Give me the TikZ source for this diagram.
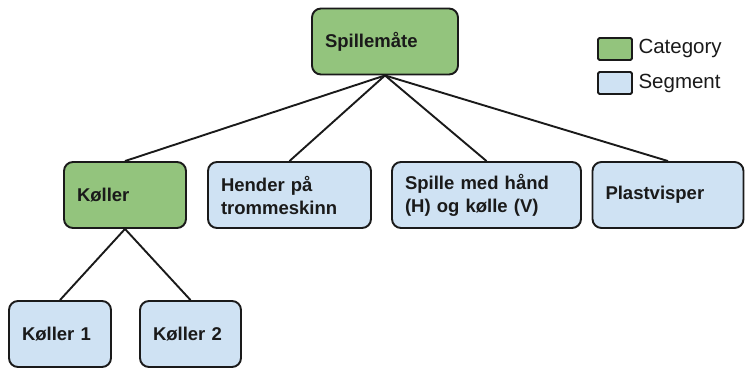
\documentclass[tikz,border=0pt]{standalone}
\usepackage{fontspec}
\setmainfont{Liberation Sans}
\usetikzlibrary{positioning}
\definecolor{catgreen}{HTML}{93C47D}
\definecolor{segblue}{HTML}{CFE2F3}
\definecolor{edge}{HTML}{1A1A1A}

\begin{document}
\begin{tikzpicture}[
  x=1pt, y=-1pt,
  every node/.style={font=\fontsize{18.5}{23}\selectfont\bfseries, text=edge},
  tbox/.style={draw=edge, line width=1.9pt, rounded corners=9pt,
              minimum height=66pt, inner xsep=13pt, align=left},
  catbox/.style={tbox, fill=catgreen},
  segbox/.style={tbox, fill=segblue},
  key/.style={draw=edge, line width=1.9pt, rounded corners=1.5pt,
              minimum width=34pt, minimum height=22pt},
  keytext/.style={font=\fontsize{20.5}{24}\selectfont, anchor=west},
  link/.style={line width=1.9pt, edge},
]
  \useasboundingbox (0,0) rectangle (748,370);

  % Top level
  \node[catbox, text width=120pt] (spill) at (385,41.5) {Spillemåte};

  % Second level
  \node[catbox, text width=96pt] (koll) at (125,195) {Køller};
  \node[segbox, text width=137pt] (hend) at (289.5,195) {Hender på\\trommeskinn};
  \node[segbox, text width=163pt] (hand) at (486.5,195) {Spille med hånd\\(H) og kølle (V)};
  \node[segbox, text width=125pt] (plast) at (668,195) {Plastvisper};

  % Third level
  \node[segbox, text width=76pt] (k1) at (60,334) {Køller 1};
  \node[segbox, text width=75pt] (k2) at (190.5,334) {Køller 2};

  % Legend
  \node[key, fill=catgreen] (kcat) at (615,49) {};
  \node[key, fill=segblue] (kseg) at (615,83) {};
  \node[keytext] (lcat) at (635,48) {Category};
  \node[keytext] (lseg) at (635,83) {Segment};

  % Tree links
  \draw[link] (spill.south) -- (koll.north);
  \draw[link] (spill.south) -- (hend.north);
  \draw[link] (spill.south) -- (hand.north);
  \draw[link] (spill.south) -- (plast.north);
  \draw[link] (koll.south) -- (k1.north);
  \draw[link] (koll.south) -- (k2.north);
\end{tikzpicture}
\end{document}
